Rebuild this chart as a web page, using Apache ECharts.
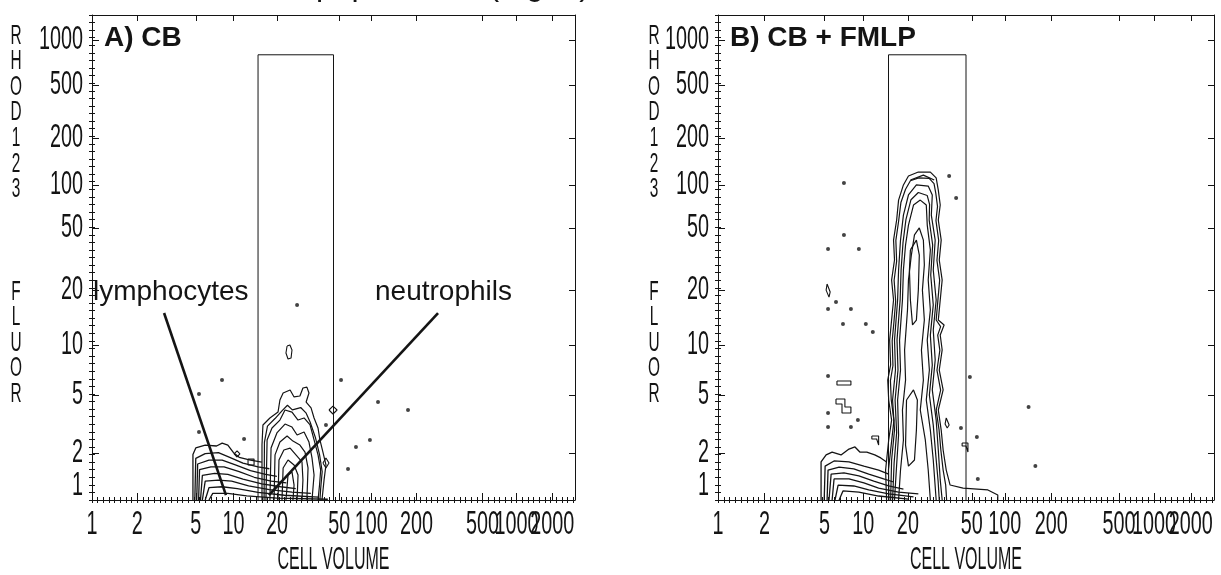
<!DOCTYPE html>
<html><head><meta charset="utf-8">
<script src="https://cdn.jsdelivr.net/npm/echarts@6/dist/echarts.min.js"></script>
<style>html,body{margin:0;padding:0;background:#fff}#c{width:1221px;height:575px}</style>
</head><body><div id="c"></div>
<script>
// ---------- axis labels (instrument channel scale, 0..256) ----------
const X_MAX = 256, Y_MAX = 256;
const xTickLabels = ['1','2','5','10','20','50','100','200','500','1000','2000'];
const xTickChannels = [0,24,55,75,98,131,148,172,207,225,244];
const yTickLabels = ['1','2','5','10','20','50','100','200','500','1000'];
const yTickChannels = [0,24.8,55.4,81.8,110.8,143.6,166.3,191,219,242.8];
const xTitle = 'CELL VOLUME';
const yTitle = 'R\nH\nO\nD\n1\n2\n3\n\n\n\nF\nL\nU\nO\nR';

// gate drawn on both panels
const gate = [[88,0],[88,235],[128,235],[128,0]];

// ---------- Panel A : CB ----------
const neutroContoursA = [
  [[90.1,0],[90.1,29.0],[90.6,39.6],[94.3,43.3],[98.6,46.4],[99.6,52.8],[101.3,56.5],[105.0,58.1],[107.1,54.4],[110.2,54.9],[111.8,59.1],[113.9,59.6],[115.0,56.5],[113.5,51.7],[116.1,48.6],[117.7,43.3],[119.8,38.0],[120.8,31.7],[122.4,25.3],[124.0,18.5],[123.0,10.6],[121.9,0]],
  [[91.2,0],[91.4,30.5],[93.0,39.0],[97.0,43.0],[100.8,47.2],[103.6,50.0],[106.2,47.6],[110.6,48.8],[113.4,46.0],[115.6,41.2],[118.4,33.0],[120.6,24.0],[122.0,15.0],[121.2,6.0],[120.8,0]],
  [[92.2,0],[92.8,31.7],[95.4,38.0],[99.6,42.2],[102.3,47.5],[106.0,46.4],[109.2,42.2],[112.4,43.3],[115.6,39.6],[117.7,31.7],[119.8,23.8],[121.2,15.8],[120.6,7.9],[119.8,0]],
  [[94.3,0],[94.9,27.4],[98.0,35.4],[102.3,40.1],[106.0,38.5],[108.7,34.3],[112.4,35.9],[115.0,30.6],[116.6,22.2],[117.7,13.2],[116.6,0]],
  [[96.5,0],[97.0,23.8],[99.6,30.6],[103.4,33.8],[106.5,31.1],[110.2,29.0],[112.9,25.3],[114.5,16.9],[113.9,0]],
  [[98.6,0],[99.1,21.1],[101.7,26.4],[105.0,27.4],[108.1,23.8],[111.3,20.1],[111.8,10.6],[111.3,0]],
  [[100.7,0],[101.3,16.9],[103.9,21.1],[107.1,18.5],[109.2,13.2],[108.7,0]],
  [[102.8,0],[103.9,13.2],[106.0,14.8],[107.1,7.9],[106.5,0]]
];
const lymphContoursA = [
  [[53.5,0],[53.5,24],[55,27.5],[60,29],[66,28.5],[69,30],[72,29],[75,25],[78,22.5],[84,21],[90,20]],
  [[54.5,0],[55,22],[60,24.5],[67,25],[73,22.5],[80,19.5],[88,17.5],[94,16.5]],
  [[55.5,0],[56,19],[62,21],[69,21],[76,18.5],[84,15.5],[92,13.5],[98,12.5]],
  [[56.5,0],[57,16],[63,17.5],[70,17.5],[78,15],[86,12],[95,10],[103,9]],
  [[57.5,0],[58.5,13],[65,14],[72,13.5],[80,11],[90,8.5],[100,7],[108,6]],
  [[58.5,0],[60,10],[67,10.5],[74,10],[83,7.5],[94,5.5],[106,4.2],[116,3.5]],
  [[60,0],[62,6.5],[69,7],[77,6],[88,4],[102,2.5],[120,1.5]],
  [[62,0],[64,3.5],[72,3.5],[82,2.2],[98,1],[125,0.4]]
];
const islandsA = [
  [[103.4,81.3],[104.9,81.8],[106.0,79.2],[105.5,74.9],[103.9,74.4],[102.8,77.6],[103.4,81.3]],
  [[75.3,24.3],[76.9,25.9],[78.4,24.3],[76.9,22.7],[75.3,24.3]],
  [[82.7,21.6],[85.9,21.6],[85.9,18.5],[82.7,18.5],[82.7,21.6]],
  [[125.6,47.5],[127.7,49.6],[129.9,47.5],[127.7,45.4],[125.6,47.5]],
  [[122.4,19.5],[124.0,22.2],[125.6,19.5],[124.0,16.9],[122.4,19.5]]
];
const eventsA = [[68.9,63.3],[56.7,55.9],[56.7,35.9],[80.6,32.2],[132.0,63.3],[124.0,39.6],[151.6,51.7],[167.5,47.5],[147.3,31.7],[139.9,28.0],[135.7,16.4],[108.7,102.9]];
const lymphPointerA = [[38.2,98.7],[71.0,2.6]];
const neutroPointerA = [[183.4,98.7],[93.8,2.6]];

// ---------- Panel B : CB + FMLP ----------
const neutroContoursB = [
  [[87.0,0],[86.5,15.8],[88.1,31.7],[89.6,42.2],[88.1,52.8],[87.6,63.3],[89.1,71.3],[88.6,84.4],[89.6,95.0],[90.6,105.6],[89.6,116.1],[91.1,126.7],[90.6,137.2],[92.2,147.8],[93.2,158.3],[95.7,166.3],[98.3,171.0],[103.4,173.1],[109.6,173.1],[112.6,170.0],[113.7,163.6],[114.7,155.7],[113.7,147.8],[115.2,137.2],[114.2,126.7],[115.7,116.1],[114.7,105.6],[113.7,95.0],[116.7,92.4],[114.7,87.1],[115.7,79.2],[114.2,68.6],[116.2,58.1],[113.7,47.5],[115.2,36.9],[116.2,26.4],[117.8,15.8],[119.8,7.9],[126.5,6.3],[139.3,5.3],[144.4,2.6],[144.4,0]],
  [[88.2,0],[88.0,16],[89.5,30],[90.8,42],[89.4,53],[89.0,63],[90.3,71],[89.9,84],[90.9,95],[91.7,105],[90.9,116],[92.2,126],[91.8,137],[93.2,147],[94.4,157],[96.8,164],[99.3,168.5],[103.6,170],[109.0,169.8],[111.5,167],[112.4,162],[113.3,155],[112.5,147.5],[113.9,137],[113.0,126.5],[114.4,116],[113.5,105.5],[112.6,95],[114.9,91.5],[113.4,87],[114.5,79],[113.0,68.5],[114.9,58],[112.6,47.5],[114.1,37],[115.0,26.5],[116.2,15.8],[117.5,8],[118,0]],
  [[89.1,0],[89.6,21.1],[91.1,36.9],[90.1,52.8],[91.6,68.6],[91.1,84.4],[92.7,105.6],[93.2,121.4],[94.2,137.2],[95.7,150.4],[98.3,161.0],[102.4,166.3],[108.5,165.7],[110.6,161.0],[110.1,150.4],[112.1,137.2],[111.1,121.4],[112.6,105.6],[111.1,89.7],[112.1,73.9],[110.6,58.1],[112.6,42.2],[113.7,26.4],[114.7,10.6],[115.7,0]],
  [[90.1,0],[90.9,19.5],[92.2,35.5],[91.4,52.8],[92.9,68.6],[92.4,84.4],[94.0,105.6],[94.5,121.4],[95.5,136],[97.0,148],[99.6,158.5],[103.4,162.3],[108.0,160.7],[109.2,156],[109.0,147.7],[110.8,134.6],[109.8,118.8],[111.1,103],[109.6,87],[110.6,71.2],[109.1,55.4],[111.1,39.5],[112.4,23.7],[113.6,10],[114.2,0]],
  [[91.1,0],[92.2,18.5],[93.2,34.3],[92.7,52.8],[94.2,68.6],[93.7,84.4],[95.2,105.6],[95.7,121.4],[96.8,134.6],[98.3,145.1],[100.9,155.7],[104.4,158.3],[107.5,155.7],[108.0,145.1],[109.6,132.0],[108.5,116.1],[109.6,100.3],[108.0,84.4],[109.1,68.6],[107.5,52.8],[109.6,36.9],[111.1,21.1],[112.6,0]],
  [[93.2,0],[94.2,15.8],[95.7,31.7],[95.2,47.5],[96.8,63.3],[96.3,79.2],[97.8,100.3],[98.3,116.1],[99.8,129.3],[101.4,139.9],[103.9,143.6],[106.0,137.2],[106.5,124.0],[105.5,110.8],[106.5,95.0],[105.0,79.2],[106.0,63.3],[104.4,47.5],[107.0,31.7],[108.5,15.8],[109.6,0]],
  [[99.3,132.0],[102.4,137.2],[103.9,129.3],[103.4,110.8],[102.4,95.0],[100.4,92.4],[99.3,105.6],[98.8,121.4],[99.3,132.0]],
  [[97.3,52.8],[100.9,58.1],[102.9,52.8],[102.4,36.9],[101.4,21.1],[98.3,17.9],[96.8,29.0],[97.3,52.8]],
  [[99.3,168.9],[106.0,171.5],[111.6,168.9]]
];
const lymphContoursB = [
  [[53.2,0],[53.2,20.1],[55.8,23.8],[58.9,25.3],[63.5,23.8],[67.6,26.9],[70.7,28.0],[73.2,25.3],[76.8,25.3],[80.9,23.8],[84.0,22.2],[87.0,20.1]],
  [[54.8,0],[55.3,17.9],[59.9,20.6],[67.6,20.1],[75.3,17.9],[82.9,15.8],[88.1,13.7]],
  [[56.3,0],[56.8,15.8],[62.5,17.4],[70.1,16.4],[77.8,13.7],[85.5,11.1],[90.6,9.5]],
  [[57.3,0],[58.4,13.7],[65.0,14.3],[72.7,12.7],[80.4,10.0],[88.1,7.4],[95.7,5.8]],
  [[58.9,0],[59.9,11.1],[67.6,11.1],[75.3,9.0],[82.9,6.3],[93.2,4.2],[103.4,3.2]],
  [[60.4,0],[62.0,7.9],[70.1,7.4],[77.8,5.3],[88.1,3.2],[100.9,1.6]],
  [[62.5,0],[64.5,4.8],[72.7,4.2],[82.9,2.1],[98.3,0.5]]
];
const islandsB = [
  [[56.3,114.0],[57.3,114.0],[57.9,109.8],[57.3,107.1],[56.3,107.1],[55.8,110.8],[56.3,114.0]],
  [[61.4,62.8],[68.6,62.8],[68.6,60.7],[61.4,60.7],[61.4,62.8]],
  [[60.9,53.3],[65.5,53.3],[65.5,49.1],[68.6,49.1],[68.6,45.9],[64.0,45.9],[64.0,50.7],[60.9,50.7],[60.9,53.3]],
  [[79.4,33.8],[82.9,33.8],[82.9,29.0],[81.9,29.0],[81.9,32.2],[79.4,32.2],[79.4,33.8]],
  [[117.8,43.3],[118.8,43.3],[119.3,39.6],[118.3,38.0],[117.2,40.1],[117.8,43.3]],
  [[126.0,30.1],[129.0,30.1],[129.0,25.3],[128.0,25.3],[128.0,28.5],[126.0,28.5],[126.0,30.1]]
];
const eventsB = [[65.0,167.3],[119.3,171.0],[122.9,159.4],[65.0,139.9],[56.8,132.5],[72.7,132.5],[60.9,104.5],[56.8,100.8],[68.6,100.8],[64.5,92.9],[76.3,92.9],[79.9,88.7],[56.8,65.4],[130.0,64.9],[160.3,49.1],[56.8,45.9],[56.8,38.5],[68.6,38.5],[72.2,42.2],[125.4,38.0],[133.6,33.3],[163.8,17.9],[134.1,11.1]];

// ---------- chart ----------
const SANS = "'Liberation Sans',Arial,Helvetica,sans-serif";
const INK = '#141414';
const xMinor = [], yMinor = [];
for (let c = 0; c <= X_MAX; c += 3) xMinor.push(c);
for (let c = 0; c <= Y_MAX; c += 4) yMinor.push(c);

const grids = [
  {left: 92, top: 15, width: 483, height: 485},
  {left: 718, top: 15, width: 496, height: 485}
];
const xAxis = [], yAxis = [];
grids.forEach((g, gi) => {
  const bx = {gridIndex: gi, type: 'value', min: 0, max: X_MAX, splitLine: {show: false}, axisLabel: {show: false}};
  const by = {gridIndex: gi, type: 'value', min: 0, max: Y_MAX, splitLine: {show: false}, axisLabel: {show: false}};
  const line = {show: true, onZero: false, lineStyle: {color: INK, width: 1}};
  const tick = (vals, len) => ({show: true, inside: true, length: len, customValues: vals, lineStyle: {color: INK, width: 1}});
  xAxis.push(
    {...bx, position: 'bottom', axisLine: line, axisTick: tick(xTickChannels, 7)},
    {...bx, position: 'bottom', axisLine: {show: false}, axisTick: tick(xMinor, 3)},
    {...bx, position: 'top', axisLine: line, axisTick: tick(xTickChannels, 6)},
    {...bx, position: 'top', axisLine: {show: false}, axisTick: tick(xMinor, 3)}
  );
  yAxis.push(
    {...by, position: 'left', axisLine: line, axisTick: tick(yTickChannels, 7)},
    {...by, position: 'left', axisLine: {show: false}, axisTick: tick(yMinor, 3)},
    {...by, position: 'right', axisLine: line, axisTick: tick(yTickChannels, 6)},
    {...by, position: 'right', axisLine: {show: false}, axisTick: tick(yMinor, 3)}
  );
});

const series = [];
function addLine(data, gi, width) {
  series.push({type: 'line', xAxisIndex: gi * 4, yAxisIndex: gi * 4, data, symbol: 'none',
    lineStyle: {color: INK, width: width}, silent: true, animation: false, z: 3});
}
function addPanel(gi, neutro, lymph, islands, events) {
  addLine(gate, gi, 1);
  neutro.forEach(c => addLine(c, gi, 1.2));
  lymph.forEach(c => addLine(c, gi, 1.3));
  islands.forEach(c => addLine(c, gi, 1.1));
  series.push({type: 'scatter', xAxisIndex: gi * 4, yAxisIndex: gi * 4, data: events,
    symbolSize: 4, itemStyle: {color: INK}, silent: true, animation: false, z: 4});
}
addPanel(0, neutroContoursA, lymphContoursA, islandsA, eventsA);
addPanel(1, neutroContoursB, lymphContoursB, islandsB, eventsB);
addLine(lymphPointerA, 0, 2.6);
addLine(neutroPointerA, 0, 2.6);

const graphic = [
  {type: 'text', x: 316, y: 2, style: {text: 'populations (Fig. 1)', font: '32px ' + SANS, fill: INK, verticalAlign: 'bottom'}},
  {type: 'text', left: 104, top: 24, style: {text: 'A) CB', font: 'bold 28px ' + SANS, fill: INK}},
  {type: 'text', left: 730, top: 24, style: {text: 'B) CB + FMLP', font: 'bold 28px ' + SANS, fill: INK}},
  {type: 'text', left: 93, top: 278, style: {text: 'lymphocytes', font: '28px ' + SANS, fill: INK}},
  {type: 'text', left: 375, top: 278, style: {text: 'neutrophils', font: '28px ' + SANS, fill: INK}}
];

const chart = echarts.init(document.getElementById('c'), null, {renderer: 'canvas'});
chart.setOption({animation: false, backgroundColor: '#fff', grid: grids, xAxis, yAxis, series, graphic});

// plotter-style narrow labels, placed through each axis scale
function narrow(text, x, y, align, vAlign, size, sx) {
  return {type: 'text', x: x, y: y, scaleX: sx, silent: true,
    style: {text: text, font: size + 'px ' + SANS, fill: INK, align: align, verticalAlign: vAlign, lineHeight: 25.6}};
}
const labels = [];
grids.forEach((g, gi) => {
  const fi = {xAxisIndex: gi * 4, yAxisIndex: gi * 4};
  xTickChannels.forEach((c, i) => {
    const p = chart.convertToPixel(fi, [c, 0]);
    labels.push(narrow(xTickLabels[i], p[0], p[1] + 25, 'center', 'middle', 33, 0.6));
  });
  yTickChannels.forEach((c, i) => {
    const p = chart.convertToPixel(fi, [0, c]);
    labels.push(narrow(yTickLabels[i], p[0] - 9, i === 0 ? p[1] - 1 : p[1], 'right', i === 0 ? 'bottom' : 'middle', 33, 0.6));
  });
  labels.push(narrow(xTitle, g.left + g.width / 2, g.top + g.height + 60, 'center', 'middle', 32, 0.5));
  labels.push(narrow(yTitle, g.left - (gi === 0 ? 76 : 64), 23, 'center', 'top', 28, 0.55));
});
chart.setOption({graphic: graphic.concat(labels)});
</script></body></html>
